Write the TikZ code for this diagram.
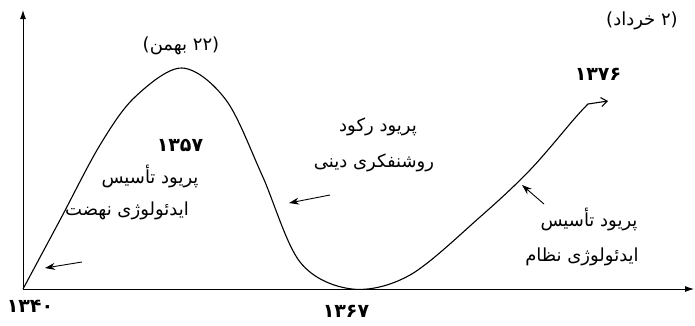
\documentclass[tikz,border=0pt]{standalone}
\usepackage{fontspec}
\newfontfamily\farsi[Script=Arabic]{DejaVu Sans}
\newfontfamily\latinfont{DejaVu Sans}
\TeXXeTstate=1
\usetikzlibrary{arrows.meta}

\begin{document}
\begin{tikzpicture}[x=1pt,y=-1pt,
  every node/.style={font=\farsi\fontsize{18}{20}\selectfont,inner sep=0pt},
  year/.style={font=\farsi\bfseries\fontsize{19}{22}\selectfont},
  axis/.style={line width=0.9pt,-{Latex[length=9pt,width=6pt]}},
  era/.style={line width=1.1pt},
  hint/.style={line width=0.9pt,-{Stealth[length=10pt,width=7pt]}}]
  \path[use as bounding box] (0,0) rectangle (695,325);
  % Axes.
  \coordinate (O) at (23,289);
  \coordinate (yEnd) at (23,10);
  \coordinate (xEnd) at (694,289);
  \draw[axis] (O) -- (yEnd);
  \draw[axis] (O) -- (xEnd);

  % The curve: rise to 1357, fall to 1367, rise again to 1376.
  \draw[era,-{Straight Barb[length=6pt,width=9pt]}]
    plot[smooth,tension=0.55] coordinates {(23,289) (60,220) (100,145)
      (135,97) (182,68) (226,100) (262,175) (300,262) (352,289) (410,275)
      (480,217) (530,170) (575,118) (588,104)} -- (608,101);

  % Year labels.
  \node[year] (yA) at (30,306) {۱۳۴۰};
  \node[year] (yB) at (180,145) {۱۳۵۷};
  \node[year] (yC) at (346,311) {۱۳۶۷};
  \node[year] (yD) at (598,74) {۱۳۷۶};
  \node (peak) at (181,46) {\beginR{\latinfont)}۲۲ بهمن{\latinfont(}\endR};
  \node (june) at (642,21) {\beginR{\latinfont)}۲ خرداد{\latinfont(}\endR};

  % Period labels.
  \node (pA1) at (150,176) {\beginR پریود تأسیس\endR};
  \node (pA2) at (127,211) {\beginR ایدئولوژی نهضت\endR};
  \node (pB1) at (378,127) {\beginR پریود رکود\endR};
  \node (pB2) at (374,163) {\beginR روشنفکری دینی\endR};
  \node (pC1) at (589,219) {\beginR پریود تأسیس\endR};
  \node (pC2) at (582,257) {\beginR ایدئولوژی نظام\endR};

  % Pointers to the curve.
  \coordinate (hA) at (82,262);
  \coordinate (tA) at (45,268);
  \coordinate (hB) at (330,195);
  \coordinate (tB) at (289,203);
  \coordinate (hC) at (544,204);
  \coordinate (tC) at (522,185);
  \draw[hint] (hA) -- (tA);
  \draw[hint] (hB) -- (tB);
  \draw[hint] (hC) -- (tC);
\end{tikzpicture}
\end{document}
